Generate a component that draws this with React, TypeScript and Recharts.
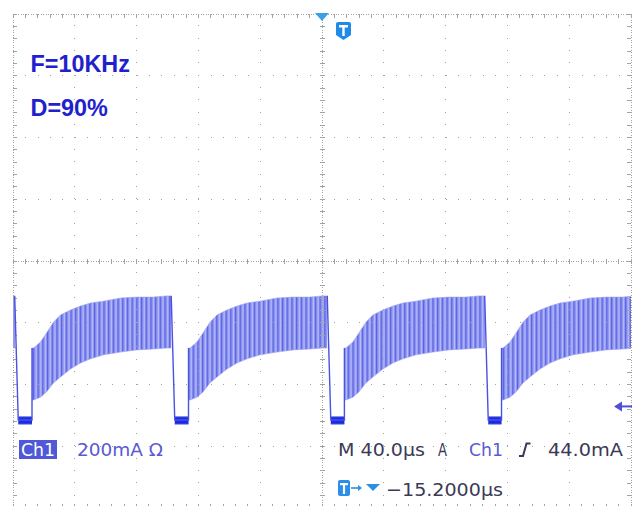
import React from 'react';
import { ComposedChart, XAxis, YAxis, Area, Line, ReferenceLine, ReferenceDot } from 'recharts';

// Screen span: 10 horizontal divisions of 40 µs, 8 vertical divisions of 200 mA
const T_MIN = -200;
const T_MAX = 200;
const Y_TOP_MA = 1315;
const Y_BOTTOM_MA = -285;
const US_PER_DIV = 40;
const MA_PER_DIV = 200;

// Rising edges of the current pulses (µs); the first pulse started before the left edge
const riseUs = [-289.0, -187.7, -86.4, 14.5, 116.2];
// Falling edges (µs) and the moment the current has reached the floor
const fallUs = [-198.9, -97.6, 3.4, 105.3];
const lowReachedUs = [-196.6, -95.3, 5.7, 107.6];

// Ripple envelope of one pulse, time after the rising edge (µs) and current (mA)
const envOffsetUs = [0, 1.0, 5.5, 9.4, 13.9, 18.4, 24.9, 31.4, 37.9, 46.3, 57.3, 67.6, 78.6, 87.0, 92.0];
const envUpperMa = [233, 233, 253, 282, 317, 340, 356, 369, 379, 385, 395, 398, 398, 402, 402];
const envLowerMa = [65, 65, 74, 91, 120, 139, 165, 185, 198, 211, 220, 227, 230, 233, 233];

// Off-time floor band and edge levels (mA)
const floorMa: [number, number] = [-13, 10];
const fallTopMa = 402;
const riseTopMa = 233;
const triggerLevelMa = 44;

// Readouts
const labelFreq = 'F=10KHz';
const labelDuty = 'D=90%';
const labelChannel = 'Ch1';
const labelScale = '200mA Ω';
const labelTimebase = 'M 40.0µs';
const labelTrigSource = ['A', 'Ch1'];
const labelTrigLevel = '44.0mA';
const labelDelay = '−15.2000µs';

const xDivs = Array.from({ length: 11 }, (_, k) => T_MIN + k * US_PER_DIV);
const yDivs = Array.from({ length: 9 }, (_, k) => Y_TOP_MA - k * MA_PER_DIV);

type RangePt = { t: number; range: [number, number] };

const pulses: RangePt[][] = riseUs.map((rise, i) => {
  const end = i < fallUs.length ? fallUs[i] : Infinity;
  const pts: RangePt[] = envOffsetUs
    .map((off, j) => ({ t: rise + off, range: [envLowerMa[j], envUpperMa[j]] as [number, number] }))
    .filter((p) => p.t < end);
  if (end !== Infinity) pts.push({ t: end, range: pts[pts.length - 1].range });
  return pts;
});

const floors: RangePt[][] = fallUs.map((_, i) => [
  { t: lowReachedUs[i], range: floorMa },
  { t: riseUs[i + 1], range: floorMa },
]);

const edges = fallUs.map((f, i) => [
  { t: f, v: fallTopMa },
  { t: lowReachedUs[i], v: 0 },
  { t: riseUs[i + 1], v: 0 },
  { t: riseUs[i + 1], v: riseTopMa },
]);

const GRID = '#a4a49c';

type Kind = 'plain' | 'center' | 'edge';

function gridShape(kind: Kind, vertical: boolean, inward: number) {
  return (p: any) => {
    const { x1, y1, x2, y2 } = p;
    const len = vertical ? Math.abs(y2 - y1) : Math.abs(x2 - x1);
    const n = vertical ? 40 : 50;
    const step = len / n;
    if (kind === 'plain') {
      return (
        <line x1={x1} y1={y1} x2={x2} y2={y2} stroke={GRID} strokeWidth={1}
          strokeDasharray={`1 ${step - 1}`} shapeRendering="crispEdges" />
      );
    }
    const ticks = [];
    const x0 = Math.min(x1, x2);
    const y0 = Math.min(y1, y2);
    for (let k = 0; k <= n; k++) {
      if (vertical) {
        const y = y0 + k * step;
        const a = kind === 'center' ? x1 - 2.5 : x1;
        const b = kind === 'center' ? x1 + 2.5 : x1 + 4 * inward;
        ticks.push(<line key={k} x1={a} x2={b} y1={y} y2={y} stroke={GRID} strokeWidth={1} shapeRendering="crispEdges" />);
      } else {
        const x = x0 + k * step;
        const a = kind === 'center' ? y1 - 2.5 : y1;
        const b = kind === 'center' ? y1 + 2.5 : y1 + 4 * inward;
        ticks.push(<line key={k} x1={x} x2={x} y1={a} y2={b} stroke={GRID} strokeWidth={1} shapeRendering="crispEdges" />);
      }
    }
    return (
      <g>
        <line x1={x1} y1={y1} x2={x2} y2={y2} stroke={GRID} strokeWidth={1}
          strokeDasharray="1 1.5" shapeRendering="crispEdges" />
        {ticks}
      </g>
    );
  };
}

const TriggerArrow = (p: any) => {
  const { cx, cy } = p;
  return (
    <g>
      <polygon points={`${cx - 17},${cy} ${cx - 9},${cy - 5} ${cx - 9},${cy + 5}`} fill="#4f50d4" />
      <line x1={cx - 10} x2={cx + 1} y1={cy} y2={cy} stroke="#4f50d4" strokeWidth={2} />
    </g>
  );
};

const DARK = '#3a3a56';
const PURPLE = '#5a5ad2';
const MONO = '"DejaVu Sans", sans-serif';

export default function App() {
  return (
    <div style={{ position: 'absolute', left: 0, top: 0, width: 632, height: 506, overflow: 'hidden', background: '#fff' }}>
      <svg width={0} height={0} style={{ position: 'absolute' }}>
        <defs>
          <pattern id="ripple" patternUnits="userSpaceOnUse" width={4.7} height={8}>
            <rect x={0} y={0} width={4.7} height={8} fill="#8f96f0" />
            <rect x={0} y={0} width={1.2} height={8} fill="#5a62e4" />
            <rect x={2.7} y={0} width={0.8} height={8} fill="#c8ccfa" />
          </pattern>
        </defs>
      </svg>
      <ComposedChart width={632} height={508} margin={{ top: 14, right: 1, bottom: 0, left: 13 }}>
        <XAxis type="number" dataKey="t" domain={[T_MIN, T_MAX]} allowDataOverflow hide />
        <YAxis type="number" domain={[Y_BOTTOM_MA, Y_TOP_MA]} allowDataOverflow hide />

        {xDivs.map((t, k) => {
          const kind: Kind = k === 0 || k === xDivs.length - 1 ? 'edge' : t === 0 ? 'center' : 'plain';
          return (
            <ReferenceLine key={`vx${k}`} x={t} ifOverflow="visible"
              shape={gridShape(kind, true, k === 0 ? 1 : -1)} />
          );
        })}
        {yDivs.map((v, k) => {
          const kind: Kind = k === 0 || k === yDivs.length - 1 ? 'edge' : k === 4 ? 'center' : 'plain';
          return (
            <ReferenceLine key={`hy${k}`} y={v} ifOverflow="visible"
              shape={gridShape(kind, false, k === 0 ? 1 : -1)} />
          );
        })}

        {pulses.map((d, i) => (
          <Area key={`p${i}`} data={d} dataKey="range" type="linear" fill="url(#ripple)" fillOpacity={1}
            stroke="#9aa0f2" strokeWidth={0.6} dot={false} activeDot={false} isAnimationActive={false} />
        ))}
        {floors.map((d, i) => (
          <Area key={`f${i}`} data={d} dataKey="range" type="linear" fill="#1a2ce0" fillOpacity={1}
            stroke="#4450e6" strokeWidth={1} dot={false} activeDot={false} isAnimationActive={false} />
        ))}
        {edges.map((d, i) => (
          <Line key={`e${i}`} data={d} dataKey="v" type="linear" stroke="#4a52e2" strokeWidth={1.4}
            dot={false} activeDot={false} isAnimationActive={false} />
        ))}

        <ReferenceDot x={T_MAX} y={triggerLevelMa} r={0} ifOverflow="visible" shape={TriggerArrow} />
      </ComposedChart>

      <svg width={632} height={506} style={{ position: 'absolute', left: 0, top: 0, pointerEvents: 'none' }}>
        {/* trigger position marker and T badge */}
        <polygon points="315,13 329,13 322,21" fill="#3d9fe8" />
        <path d="M336,24 Q336,22 338,22 L349,22 Q351,22 351,24 L351,35 L343.5,40 L336,35 Z" fill="#208be6" />
        <rect x={339} y={25} width={9} height={2.5} fill="#fff" />
        <rect x={342.3} y={25} width={2.4} height={11} fill="#fff" />

        <text x={30.5} y={72} fontFamily='"Liberation Sans", Arial, sans-serif' fontWeight="bold" fontSize={23.4} fill="#1e22cc">{labelFreq}</text>
        <text x={30.5} y={116} fontFamily='"Liberation Sans", Arial, sans-serif' fontWeight="bold" fontSize={23.4} fill="#1e22cc">{labelDuty}</text>

        {/* channel readout */}
        <rect x={19} y={440} width={38} height={19} fill="#4f58d6" />
        <text x={21} y={456} fontFamily={MONO} fontSize={18} fill="#fff" textLength={34} lengthAdjust="spacingAndGlyphs">{labelChannel}</text>
        <text x={77} y={456} fontFamily={MONO} fontSize={18} fill={PURPLE} textLength={86} lengthAdjust="spacingAndGlyphs">{labelScale}</text>

        {/* timebase and trigger readout */}
        <text x={338} y={456} fontFamily={MONO} fontSize={18} fill={DARK} textLength={87} lengthAdjust="spacingAndGlyphs">{labelTimebase}</text>
        <text x={438} y={456} fontFamily={MONO} fontSize={18} fill={DARK} textLength={9} lengthAdjust="spacingAndGlyphs">{labelTrigSource[0]}</text>
        <text x={469} y={456} fontFamily={MONO} fontSize={18} fill={PURPLE} textLength={34} lengthAdjust="spacingAndGlyphs">{labelTrigSource[1]}</text>
        <path d="M519,456 L523,456 L526.5,443.5 L530.5,443.5" stroke={DARK} strokeWidth={2} fill="none" />
        <text x={548} y={456} fontFamily={MONO} fontSize={18} fill={DARK} textLength={75} lengthAdjust="spacingAndGlyphs">{labelTrigLevel}</text>

        {/* horizontal position readout */}
        <rect x={338} y={480} width={12} height={16} rx={2} fill="#2b8fe8" />
        <rect x={340} y={483} width={8} height={2.2} fill="#fff" />
        <rect x={342.9} y={483} width={2.2} height={11} fill="#fff" />
        <line x1={351} x2={359} y1={488} y2={488} stroke="#2b8fe8" strokeWidth={1.6} />
        <polygon points="358,485 362,488 358,491" fill="#2b8fe8" />
        <polygon points="366,484 380,484 373,491" fill="#2b8fe8" />
        <text x={386} y={496} fontFamily={MONO} fontSize={18} fill={DARK} textLength={117} lengthAdjust="spacingAndGlyphs">{labelDelay}</text>
      </svg>
    </div>
  );
}
